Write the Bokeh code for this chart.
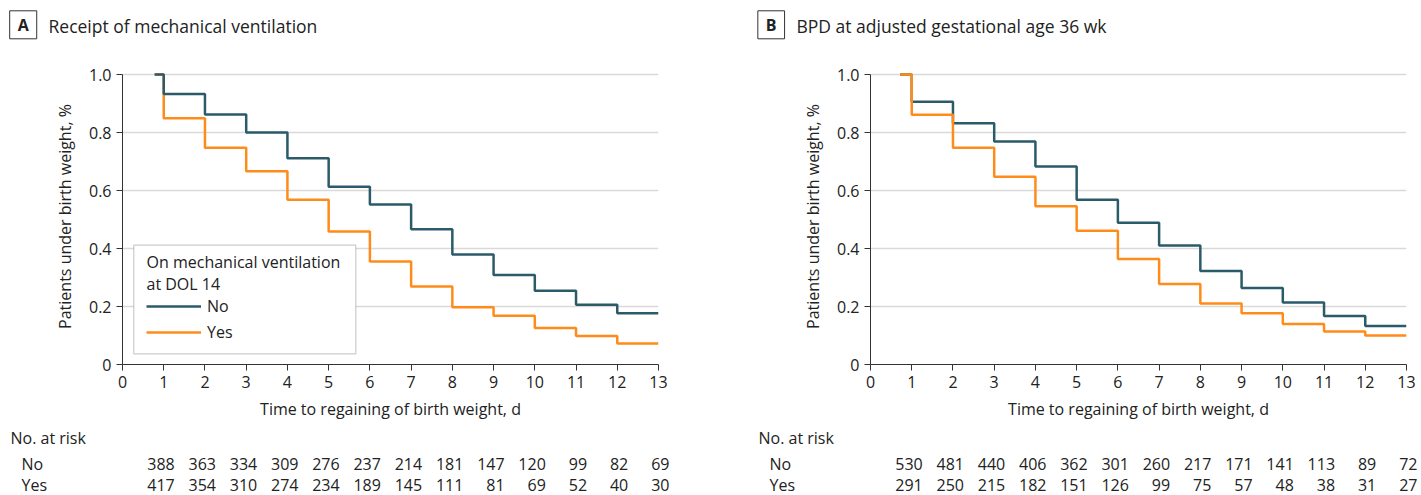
from bokeh.plotting import figure
from bokeh.models import (Range1d, FixedTicker, PrintfTickFormatter, Label,
                          BoxAnnotation, Legend, LegendItem)
from bokeh.layouts import row, column
from bokeh.core.properties import value
from bokeh.embed import file_html
from bokeh.resources import INLINE

# ---------------- data ----------------
days = [1, 2, 3, 4, 5, 6, 7, 8, 9, 10, 11, 12, 13]
step_days = [1, 2, 3, 4, 5, 6, 7, 8, 9, 10, 11, 12]

a_title = "Receipt of mechanical ventilation"
a_start = 0.78
a_no = [0.933, 0.862, 0.800, 0.711, 0.613, 0.552, 0.466, 0.379, 0.309, 0.254, 0.206, 0.177]
a_yes = [0.849, 0.747, 0.666, 0.568, 0.459, 0.355, 0.269, 0.197, 0.168, 0.126, 0.098, 0.072]
a_risk_no = [388, 363, 334, 309, 276, 237, 214, 181, 147, 120, 99, 82, 69]
a_risk_yes = [417, 354, 310, 274, 234, 189, 145, 111, 81, 69, 52, 40, 30]

b_title = "BPD at adjusted gestational age 36 wk"
b_start = 0.72
b_no = [0.906, 0.832, 0.769, 0.683, 0.568, 0.489, 0.410, 0.322, 0.264, 0.214, 0.167, 0.133]
b_yes = [0.861, 0.747, 0.647, 0.546, 0.461, 0.364, 0.278, 0.210, 0.177, 0.140, 0.114, 0.100]
b_risk_no = [530, 481, 440, 406, 362, 301, 260, 217, 171, 141, 113, 89, 72]
b_risk_yes = [291, 250, 215, 182, 151, 126, 99, 75, 57, 48, 38, 31, 27]

y_ticks = [0, 0.2, 0.4, 0.6, 0.8, 1.0]
x_ticks = [0, 1, 2, 3, 4, 5, 6, 7, 8, 9, 10, 11, 12, 13]
group_labels = ["No", "Yes"]
legend_title = ["On mechanical ventilation", "at DOL 14"]
risk_header = "No. at risk"
x_label = "Time to regaining of birth weight, d"
y_label = "Patients under birth weight, %"

# ---------------- style / layout ----------------
FONT = "Open Sans"
TEAL = "#2b5b69"
ORANGE = "#ff8c1a"
TXT = "#222222"
AX = "#333333"
GRID = "#d9d9d9"

TITLE_H = 60          # title strip: canvas y 0..60
MAIN_TOP = 8          # main figure: canvas y 60..426
FRAME_H = 296
MAIN_BOTTOM = 62
TABLE_H = 69          # table strip: canvas y 426..495
LEFT = 122
FRAME_W = 536
PX_X = FRAME_W / 13.0
PX_Y = 290.0
FRAME_BOTTOM = TITLE_H + MAIN_TOP + FRAME_H   # 364 (canvas)


def dx(px):
    return (px - LEFT) / PX_X


def dy(py):
    return (FRAME_BOTTOM - py) / PX_Y


def strip(width, height):
    s = figure(width=width, height=height, x_range=Range1d(dx(0), dx(width)),
               y_range=Range1d(height, 0), x_axis_type=None, y_axis_type=None,
               min_border=0, min_border_left=0, min_border_right=0,
               min_border_top=0, min_border_bottom=0, frame_align=False,
               toolbar_location=None, output_backend="svg",
               outline_line_color=None, background_fill_color="white",
               border_fill_color="white")
    return s


def panel(width, letter, title, start, no_vals, yes_vals, risk_no, risk_yes,
          yes_on_top, with_legend):
    # ---- title strip ----
    t = strip(width, TITLE_H)
    t.add_layout(Label(x=dx(22.7), y=24.3, text=letter, text_font=FONT,
                       text_font_size="16px", text_font_style="bold",
                       text_color=TXT, text_align="center", text_baseline="middle",
                       border_line_color=AX, border_line_width=1,
                       background_fill_color="white", padding=(8, 3)))
    t.add_layout(Label(x=dx(48), y=25, text=title, text_font=FONT,
                       text_font_size="17.5px", text_color=TXT,
                       text_align="left", text_baseline="middle"))

    # ---- main plot ----
    p = figure(width=width, height=MAIN_TOP + FRAME_H + MAIN_BOTTOM,
               x_range=Range1d(0, 13), y_range=Range1d(0, FRAME_H / PX_Y),
               min_border_left=LEFT, min_border_right=width - LEFT - FRAME_W,
               min_border_top=MAIN_TOP, min_border_bottom=MAIN_BOTTOM,
               frame_align=False,
               toolbar_location=None, output_backend="svg",
               outline_line_color=None, background_fill_color="white",
               border_fill_color="white")

    p.xaxis.ticker = FixedTicker(ticks=x_ticks)
    p.xaxis.bounds = (0, 13)
    p.yaxis.ticker = FixedTicker(ticks=y_ticks)
    p.yaxis.bounds = (0, 1)
    p.yaxis.formatter = PrintfTickFormatter(format="%.1f")
    p.yaxis.major_label_overrides = {0: "0"}
    p.xaxis.axis_label = x_label
    p.yaxis.axis_label = y_label
    for ax in (p.xaxis[0], p.yaxis[0]):
        ax.axis_line_color = AX
        ax.axis_line_width = 1
        ax.major_tick_line_color = AX
        ax.major_tick_out = 6
        ax.major_tick_in = 0
        ax.minor_tick_line_color = None
        ax.major_label_text_font = FONT
        ax.major_label_text_font_size = "16px"
        ax.major_label_text_color = TXT
        ax.axis_label_text_font = FONT
        ax.axis_label_text_font_size = "16px"
        ax.axis_label_text_font_style = "normal"
        ax.axis_label_text_color = TXT
    p.yaxis.major_label_standoff = 5
    p.yaxis.axis_label_standoff = 10
    p.xaxis.major_label_standoff = 5
    p.xaxis.axis_label_standoff = 7

    p.xgrid.visible = False
    p.ygrid.ticker = FixedTicker(ticks=y_ticks)
    p.ygrid.grid_line_color = GRID
    p.ygrid.grid_line_width = 1.5

    xs = [start] + step_days + [days[-1]]
    ys_no = [1.0] + no_vals + [no_vals[-1]]
    ys_yes = [1.0] + yes_vals + [yes_vals[-1]]
    if yes_on_top:
        r_no = p.step(xs, ys_no, mode="after", line_color=TEAL, line_width=2.5)
        r_yes = p.step(xs, ys_yes, mode="after", line_color=ORANGE, line_width=2.5)
    else:
        r_yes = p.step(xs, ys_yes, mode="after", line_color=ORANGE, line_width=2.5)
        r_no = p.step(xs, ys_no, mode="after", line_color=TEAL, line_width=2.5)

    if with_legend:
        p.add_layout(BoxAnnotation(left=dx(133.3), right=dx(355.3), top=dy(244.7),
                                   bottom=dy(353.3), fill_color="white", fill_alpha=1,
                                   line_color="#555555", line_width=1.2))
        for txt, yy in zip(legend_title, [261.7, 283.3]):
            p.add_layout(Label(x=dx(146), y=dy(yy), text=txt, text_font=FONT,
                               text_font_size="16px", text_color=TXT,
                               text_align="left", text_baseline="middle"))
        leg = Legend(items=[LegendItem(label=group_labels[0], renderers=[r_no]),
                            LegendItem(label=group_labels[1], renderers=[r_yes])],
                     location=(24, 21), glyph_width=55, glyph_height=20,
                     label_height=20, label_standoff=6, spacing=4, padding=0,
                     margin=0, border_line_color=None, background_fill_alpha=0,
                     label_text_font=FONT, label_text_font_size="16px",
                     label_text_color=TXT)
        p.add_layout(leg)

    # ---- number at risk strip ----
    s = strip(width, TABLE_H)
    common = dict(text_font=value(FONT), text_font_size="16px", text_color=TXT,
                  text_baseline="middle")
    s.text(x=[dx(10)], y=[11], text=[risk_header], text_align="left", **common)
    s.text(x=[dx(21), dx(21)], y=[37, 58], text=group_labels, text_align="left", **common)
    s.text(x=days, y=[37] * len(days), text=[str(v) for v in risk_no],
           text_align="right", x_offset=11, **common)
    s.text(x=days, y=[58] * len(days), text=[str(v) for v in risk_yes],
           text_align="right", x_offset=11, **common)

    return column(t, p, s, spacing=0)


colA = panel(748, "A", a_title, a_start, a_no, a_yes, a_risk_no, a_risk_yes,
             yes_on_top=False, with_legend=True)
colB = panel(673, "B", b_title, b_start, b_no, b_yes, b_risk_no, b_risk_yes,
             yes_on_top=True, with_legend=False)

layout = row(colA, colB, spacing=0)
open("out.html", "w").write(file_html(layout, INLINE))
